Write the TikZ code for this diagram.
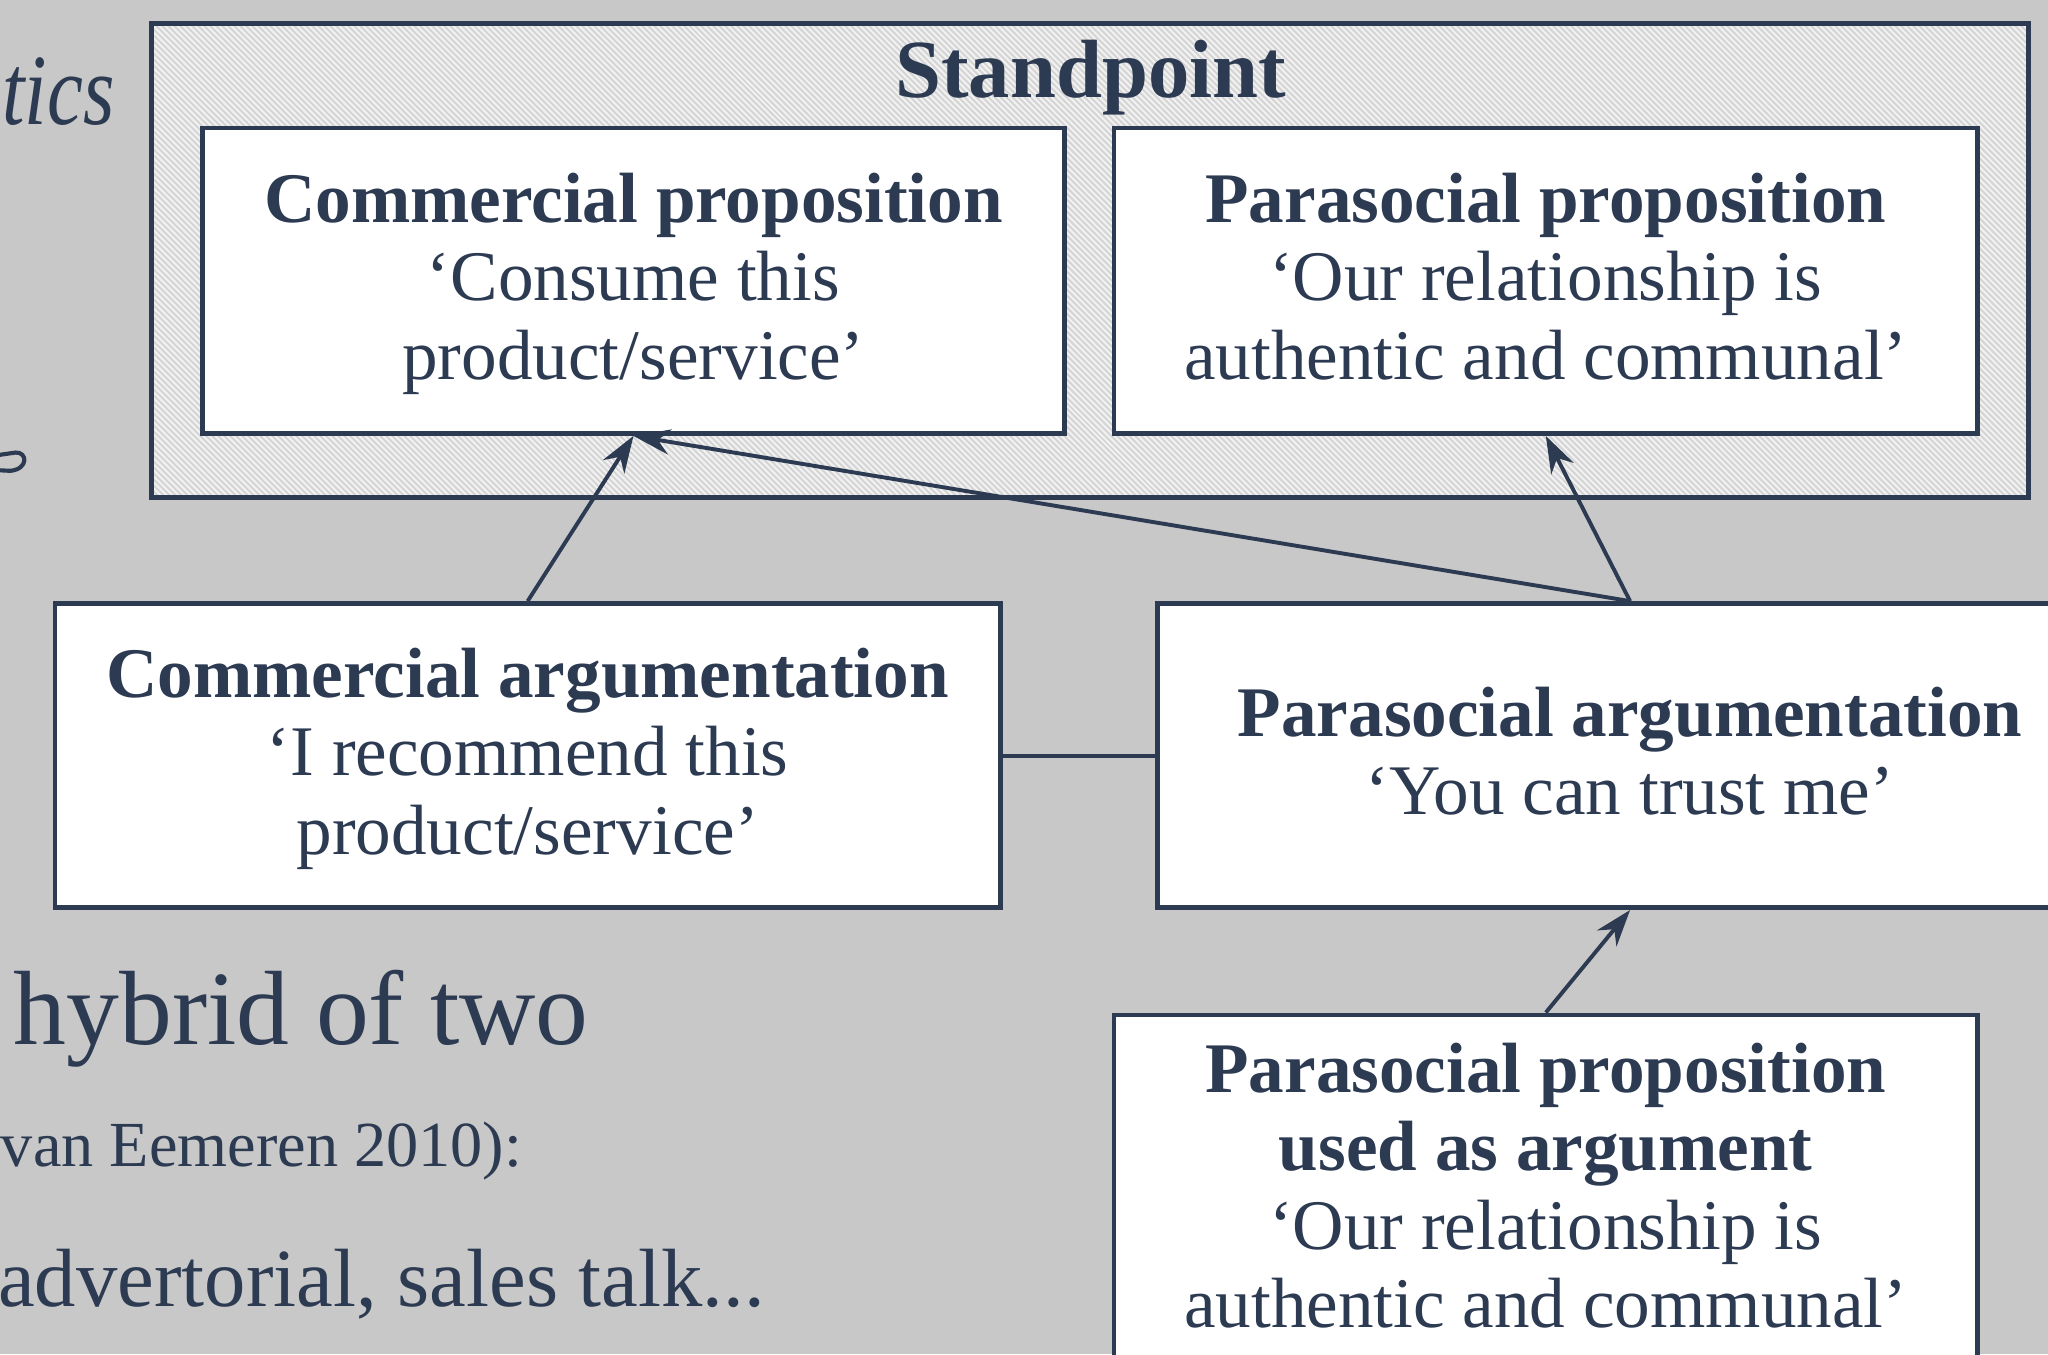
\documentclass[tikz,border=0pt]{standalone}
\usepackage{fontspec}
\setmainfont{Liberation Serif}
\usetikzlibrary{arrows.meta,patterns.meta}

\definecolor{ink}{RGB}{44,58,82}
\definecolor{slide}{RGB}{200,200,200}
\definecolor{hatch}{RGB}{212,212,212}

\begin{document}
\begin{tikzpicture}[
  font=\fontsize{15.5}{17.07}\selectfont,
  every node/.style={text=ink},
  box/.style={draw=ink,line width=1pt,fill=white,align=center,inner sep=0pt,text depth=2pt},
  standframe/.style={draw=ink,line width=1pt,inner sep=0pt,
    preaction={fill=white!95!black},
    pattern={Lines[angle=-45,distance=0.9pt,line width=0.45pt]},pattern color=hatch},
  arr/.style={-{Stealth[length=8pt,width=5.5pt]},draw=ink,line width=0.85pt},
  slidetext/.style={anchor=base west,inner sep=0pt},
]
  % slide background
  \fill[slide] (0,0) rectangle (15.68,10.37);
  \useasboundingbox (0,0) rectangle (15.68,10.37);

  % slide text behind the diagram
  \node[slidetext,font=\fontsize{22}{26}\selectfont\itshape\addfontfeature{FakeStretch=0.8}] (ttl) at (0.01,9.42) {tics};
  \draw[ink,line width=0.9pt] (-0.02,6.885) -- (0.12,6.905) .. controls (0.21,6.91) and (0.22,6.78) .. (0.08,6.765) -- (-0.02,6.77);
  \node[slidetext,font=\fontsize{23}{27}\selectfont] (hyb) at (0.10,2.37) {hybrid of two};
  \node[slidetext,font=\fontsize{14}{17}\selectfont] (cite) at (0,1.44) {van Eemeren 2010):};
  \node[slidetext,font=\fontsize{18}{22}\selectfont] (adv) at (-0.02,0.37) {advertorial, sales talk...};

  % Standpoint (hatched frame with two propositions)
  \node[standframe,minimum width=14.37cm,minimum height=3.63cm] (stand) at (8.345,8.375) {};
  \node[font=\fontsize{18}{20}\selectfont\bfseries,anchor=base] (standlbl) at (8.35,9.62) {Standpoint};
  \node[box,minimum width=6.60cm,minimum height=2.34cm] (cprop) at (4.85,8.22)
    {\textbf{Commercial proposition}\\‘Consume this\\product/service’};
  \node[box,minimum width=6.61cm,minimum height=2.34cm] (pprop) at (11.835,8.22)
    {\textbf{Parasocial proposition}\\‘Our relationship is\\authentic and communal’};

  % argumentation
  \node[box,minimum width=7.24cm,minimum height=2.33cm] (carg) at (4.04,4.585)
    {\textbf{Commercial argumentation}\\‘I recommend this\\product/service’};
  \node[box,minimum width=7.24cm,minimum height=2.33cm] (parg) at (12.48,4.585)
    {\textbf{Parasocial argumentation}\\‘You can trust me’};
  \node[box,minimum width=6.61cm,minimum height=2.68cm] (pbase) at (11.835,1.26)
    {\textbf{Parasocial proposition}\\\textbf{used as argument}\\‘Our relationship is\\authentic and communal’};

  % support relations
  \draw[ink,line width=0.85pt] (carg.east) -- (parg.west);
  \draw[arr] (carg.north) -- (cprop.south);
  \draw[arr] (parg.north) -- (cprop.south);
  \draw[arr] (parg.north) -- (pprop.south);
  \draw[arr] (pbase.north) -- (parg.south);
\end{tikzpicture}
\end{document}
